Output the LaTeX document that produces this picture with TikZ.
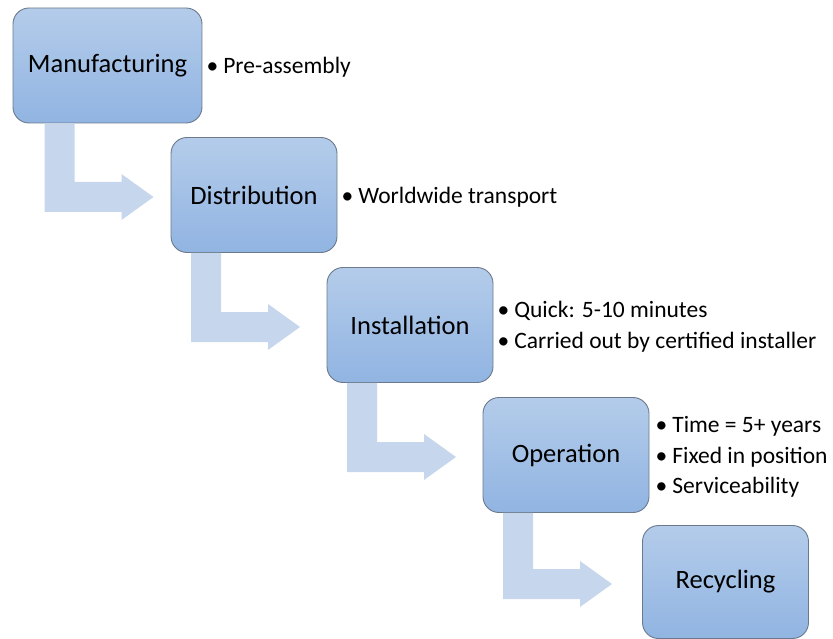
\documentclass[tikz,border=0pt]{standalone}
\usepackage{fontspec}
\setmainfont{Carlito}
\usepackage{xcolor}
\usetikzlibrary{positioning, calc}
\definecolor{boxtop}{HTML}{B4CCEA}
\definecolor{boxbot}{HTML}{91B4E2}
\definecolor{boxline}{HTML}{6A7A8C}
\definecolor{flowblue}{HTML}{C6D6EC}
\newcommand{\itm}{•\hspace{5pt}}
\tikzset{
    stage/.style={draw=boxline, line width=0.9pt, rounded corners=16pt, top color=boxtop, bottom color=boxbot, minimum width=166pt, minimum height=115pt, font=\fontsize{26.5}{32}\selectfont}, % the blue boxes
    notes/.style={inner sep=0pt, align=left, yshift=-2pt, font=\fontsize{23.5}{30.8}\selectfont}, % bullet text beside a box
}

\begin{document}
\begin{tikzpicture}
                [x=1pt, y=-1pt, node distance=130pt and 156pt, on grid]
                \useasboundingbox (0,0) rectangle (833,639);
                % Stages
                \node[stage, minimum width=189pt] (manu) at (107.5,65.5) {Manufacturing};
                \node[stage] (dist) at (254,195) {Distribution};
                \node[stage] (inst) [below right=of dist] {Installation};
                \node[stage] (oper) [below right=of inst] {Operation};
                \node[stage, minimum height=113pt] (recy) at (725.5,582) {Recycling};

                % Notes
                \node[notes, on grid=false, right=4pt of manu] (manunote) {\itm Pre-assembly};
                \node[notes, on grid=false, right=4pt of dist] (distnote) {\itm Worldwide transport};
                \node[notes, on grid=false, right=4pt of inst] (instnote) {\itm Quick: 5-10 minutes\\\itm Carried out by certified installer};
                \node[notes, on grid=false, right=6pt of oper] (opernote) {\itm Time = 5+ years\\\itm Fixed in position\\\itm Serviceability};

                % Bent arrows
                \foreach \a/\b in {manu/dist, dist/inst, inst/oper, oper/recy}
                    \fill[flowblue] let \p1=(\a.center), \p2=(\a.south), \p3=(\b.center) in
                        (\x1-63pt,\y2) -- (\x1-33pt,\y2) -- (\x1-33pt,\y3+13pt) -- (\x1+14pt,\y3+13pt)
                        -- (\x1+14pt,\y3+21pt) -- (\x1+46pt,\y3-2pt) -- (\x1+14pt,\y3-25pt)
                        -- (\x1+14pt,\y3-17pt) -- (\x1-63pt,\y3-17pt) -- cycle;
            \end{tikzpicture}
\end{document}
